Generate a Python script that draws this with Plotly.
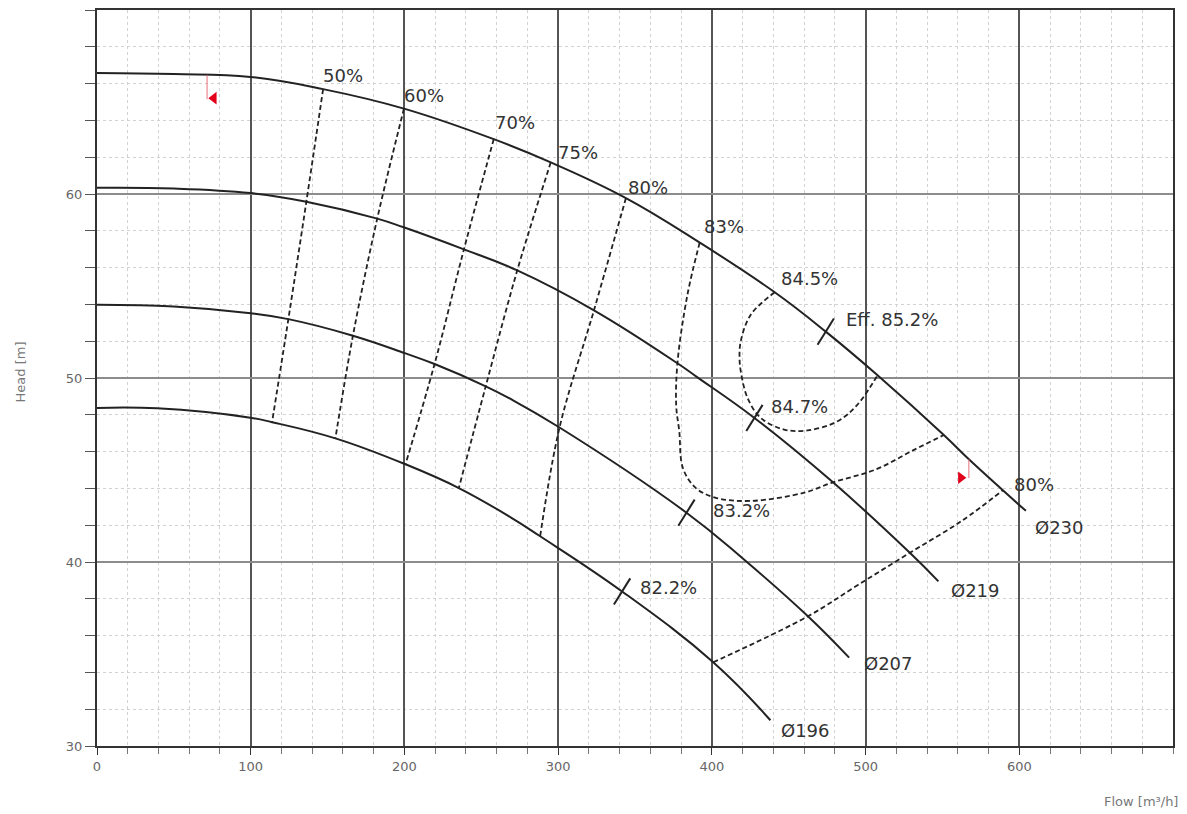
import plotly.graph_objects as go

# ---------------- data ----------------
# Impeller head curves: flow [m3/h] vs head [m]
q_230 = [0, 49.9, 99.8, 147.1, 199.7, 258.1, 295.2, 344.1, 392.1, 440.9, 474.1, 507.8, 550.9, 567.2, 589.3, 604.3]
h_230 = [66.58, 66.52, 66.36, 65.70, 64.64, 62.98, 61.72, 59.78, 57.36, 54.66, 52.52, 50.15, 46.90, 45.58, 43.90, 42.78]

q_219 = [0, 49.9, 99.8, 136.2, 182.3, 199.5, 238.7, 273.4, 323.3, 377.6, 390.4, 427.7, 478.8, 528.8, 547.4]
h_219 = [60.34, 60.30, 60.05, 59.58, 58.66, 58.19, 56.99, 55.85, 53.68, 50.80, 50.05, 47.83, 44.33, 40.50, 38.95]

q_207 = [0, 49.9, 100.0, 124.5, 166.5, 200.3, 219.6, 252.9, 269.1, 300.9, 383.5, 420.7, 462.5, 489.3]
h_207 = [53.98, 53.89, 53.52, 53.20, 52.30, 51.35, 50.76, 49.55, 48.86, 47.31, 42.68, 40.15, 37.05, 34.80]

q_196 = [0, 39.1, 99.8, 113.9, 155.1, 200.7, 235.4, 269.1, 288.3, 341.6, 400.9, 438.1]
h_196 = [48.37, 48.35, 47.84, 47.60, 46.72, 45.31, 44.02, 42.43, 41.40, 38.40, 34.55, 31.40]

curve_names = ["Ø230", "Ø219", "Ø207", "Ø196"]
curve_label_q = [609.0, 554.4, 497.4, 444.0]
curve_label_h = [41.87, 38.44, 34.50, 30.85]

# Iso-efficiency lines
eff_50_q = [147.1, 136.2, 124.5, 113.9]
eff_50_h = [65.70, 59.58, 53.20, 47.60]
eff_60_q = [199.7, 182.3, 166.5, 155.1]
eff_60_h = [64.64, 58.66, 52.30, 46.72]
eff_70_q = [258.1, 238.7, 219.6, 200.7]
eff_70_h = [62.98, 56.99, 50.76, 45.31]
eff_75_q = [295.2, 273.4, 252.9, 235.4]
eff_75_h = [61.72, 55.85, 49.55, 44.02]
eff_80l_q = [344.1, 323.3, 300.9, 288.3]
eff_80l_h = [59.78, 53.68, 47.31, 41.40]
eff_83_q = [392.1, 384.1, 377.6, 376.8, 378.8, 381.1, 389.3, 402.1, 425.3, 460.2, 478.8, 506.7, 530.0, 550.9]
eff_83_h = [57.36, 54.52, 50.80, 48.50, 47.11, 45.12, 44.04, 43.50, 43.32, 43.77, 44.33, 45.03, 46.03, 46.90]
eff_845_q = [440.9, 425.3, 418.8, 418.0, 418.8, 423.2, 431.8, 447.0, 462.2, 481.8, 494.8, 507.8]
eff_845_h = [54.66, 53.44, 52.00, 51.10, 50.37, 48.92, 47.83, 47.20, 47.15, 47.65, 48.56, 50.15]
eff_80r_q = [400.9, 462.5, 495.0, 528.8, 562.5, 589.3]
eff_80r_h = [34.55, 37.05, 38.75, 40.50, 42.23, 43.90]

eff_lines_q = [eff_50_q, eff_60_q, eff_70_q, eff_75_q, eff_80l_q, eff_83_q, eff_845_q, eff_80r_q]
eff_lines_h = [eff_50_h, eff_60_h, eff_70_h, eff_75_h, eff_80l_h, eff_83_h, eff_845_h, eff_80r_h]

eff_labels = ["50%", "60%", "70%", "75%", "80%", "83%", "84.5%", "80%"]
eff_label_q = [146.0, 198.6, 257.3, 298.4, 344.0, 393.9, 443.8, 595.0]
eff_label_h = [66.44, 65.36, 63.90, 62.28, 60.38, 58.22, 55.42, 44.22]

# Best efficiency points
bep_q = [474.1, 427.7, 383.5, 341.6]
bep_h = [52.52, 47.83, 42.68, 38.40]
bep_labels = ["Eff. 85.2%", "84.7%", "83.2%", "82.2%"]
bep_label_q = [486.1, 437.0, 399.7, 352.1]
bep_label_h = [53.17, 48.47, 42.78, 38.62]

# Operating-range flags on the largest curve
flag_q = [71.6, 567.2]
flag_top_h = [66.45, 45.58]
flag_bot_h = [65.15, 44.56]
flag_tri_q = [76.0, 562.0]
flag_tri_h = [65.21, 44.58]
flag_symbols = ["triangle-left", "triangle-right"]

x_ticks = [0, 100, 200, 300, 400, 500, 600]
y_ticks = [30, 40, 50, 60]

# ---------------- figure ----------------
INK = "#222222"
TXT = "#333333"
FONT = "DejaVu Sans"

fig = go.Figure()

# iso-efficiency lines (dashed)
for qs, hs in zip(eff_lines_q, eff_lines_h):
    fig.add_trace(go.Scatter(x=qs, y=hs, mode="lines",
                             line=dict(color=INK, width=1.8, dash="5px,3px", shape="spline", smoothing=1.0),
                             hoverinfo="skip", showlegend=False))

# head curves
for qs, hs in [(q_230, h_230), (q_219, h_219), (q_207, h_207), (q_196, h_196)]:
    fig.add_trace(go.Scatter(x=qs, y=hs, mode="lines",
                             line=dict(color=INK, width=2, shape="spline", smoothing=1.2),
                             hoverinfo="skip", showlegend=False))

# BEP tick marks
fig.add_trace(go.Scatter(x=bep_q, y=bep_h, mode="markers",
                         marker=dict(symbol="line-ns", size=22, angle=32,
                                     line=dict(color=INK, width=2)),
                         hoverinfo="skip", showlegend=False))

# red flags
for q, ht, hb in zip(flag_q, flag_top_h, flag_bot_h):
    fig.add_trace(go.Scatter(x=[q, q], y=[ht, hb], mode="lines",
                             line=dict(color="#e8707a", width=1),
                             hoverinfo="skip", showlegend=False))
for q, h, s in zip(flag_tri_q, flag_tri_h, flag_symbols):
    fig.add_trace(go.Scatter(x=[q], y=[h], mode="markers",
                             marker=dict(symbol=s, size=11, color="#e3001b"),
                             hoverinfo="skip", showlegend=False))

# text labels
annotations = []
for txt, q, h in zip(eff_labels + bep_labels + curve_names,
                     eff_label_q + bep_label_q + curve_label_q,
                     eff_label_h + bep_label_h + curve_label_h):
    annotations.append(dict(x=q, y=h, xref="x", yref="y", text=txt, showarrow=False,
                            xanchor="left", yanchor="middle",
                            font=dict(family=FONT, size=18, color=TXT)))

annotations.append(dict(text="Head [m]", xref="paper", yref="y", x=0, y=50.3,
                        xanchor="center", xshift=-77, textangle=-90, showarrow=False,
                        font=dict(family=FONT, size=13, color="#777777")))
annotations.append(dict(text="Flow [m³/h]", xref="paper", yref="paper", x=1, y=0,
                        xanchor="right", yanchor="top", xshift=7, yshift=-46, showarrow=False,
                        font=dict(family=FONT, size=13, color="#777777")))

# page body has an 8 px margin, so the figure is sized/offset to match
fig.update_layout(
    width=1179, height=806,
    margin=dict(l=89, r=14, t=0, b=68),
    paper_bgcolor="white", plot_bgcolor="white",
    annotations=annotations,
    showlegend=False,
)

fig.update_xaxes(
    range=[0, 700], tickvals=x_ticks, ticktext=[str(v) for v in x_ticks],
    showgrid=True, gridcolor="#555555", gridwidth=1.5,
    showline=True, linecolor="#333333", linewidth=2, mirror=True,
    ticks="outside", ticklen=7, tickcolor="#333333",
    tickfont=dict(family=FONT, size=13, color="#666666"),
    zeroline=False,
    minor=dict(dtick=20, showgrid=True, gridcolor="#d2d2d2", gridwidth=1, griddash="3px,3px",
               ticks="outside", ticklen=6, tickcolor="#777777"),
)
fig.update_yaxes(
    range=[30, 70], tickvals=y_ticks + [70], ticktext=[str(v) for v in y_ticks] + [""],
    showgrid=True, gridcolor="#8c8c8c", gridwidth=2,
    showline=True, linecolor="#333333", linewidth=2, mirror=True,
    ticks="outside", ticklen=10, tickcolor="#555555",
    tickfont=dict(family=FONT, size=13, color="#666666"),
    zeroline=False,
    minor=dict(dtick=2, showgrid=True, gridcolor="#d2d2d2", gridwidth=1, griddash="3px,3px",
               ticks="outside", ticklen=10, tickcolor="#555555"),
)

fig.write_html("out.html")
